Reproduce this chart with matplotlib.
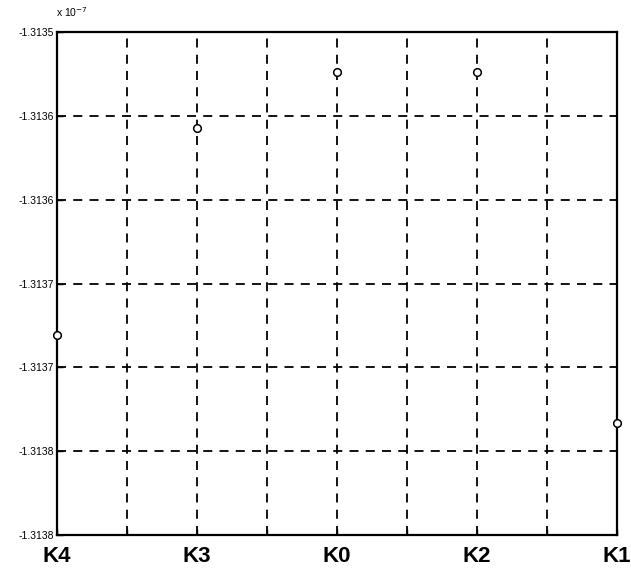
"""
Scanned MATLAB-style scatter: five K points on a dashed grid, y in units of 1e-7.
Output: out.png
"""
import matplotlib
matplotlib.use("Agg")
import matplotlib.pyplot as plt

plt.rcParams.update({
    "font.family": ["Liberation Sans", "DejaVu Sans"],
    "figure.dpi":  100,
})

# data (y in units of 1e-7)
point_names  = ["K4", "K3", "K0", "K2", "K1"]
point_x      = [1, 2, 3, 4, 5]
point_y      = [-1.313681, -1.313557, -1.313524, -1.313524, -1.313733]

y_ticks      = [-1.31380, -1.31375, -1.31370, -1.31365, -1.31360, -1.31355, -1.31350]
y_ticklabels = ["-1.3138", "-1.3138", "-1.3137", "-1.3137", "-1.3136", "-1.3136", "-1.3135"]
x_ticks      = [1, 1.5, 2, 2.5, 3, 3.5, 4, 4.5, 5]
x_ticklabels = ["K4", "", "K3", "", "K0", "", "K2", "", "K1"]

# draw
fig = plt.figure(figsize=(6.31, 5.77))
ax = fig.add_axes([0.0903, 0.0728, 0.8875, 0.8717])

ax.plot(point_x, point_y, linestyle="none", marker="o", markersize=5.5,
        markerfacecolor="white", markeredgecolor="black", markeredgewidth=1.1,
        zorder=4, clip_on=False)

ax.set_xlim(1, 5)
ax.set_ylim(-1.31380, -1.31350)
ax.set_xticks(x_ticks)
ax.set_xticklabels(x_ticklabels, fontsize=16, fontweight="bold")
ax.set_yticks(y_ticks)
ax.set_yticklabels(y_ticklabels, fontsize=7.5)

ax.tick_params(axis="both", direction="in", length=4, width=1.0, color="black")
ax.tick_params(axis="x", pad=8)
ax.tick_params(axis="y", pad=2)

ax.grid(True, color="black", linestyle=(0, (5, 4)), linewidth=1.3, zorder=1)
for side in ax.spines.values():
    side.set_linewidth(1.6)
    side.set_color("black")

fig.text(0.088, 0.967, r"x 10$^{-7}$", fontsize=7.5, ha="left", va="bottom")

fig.savefig("out.png", dpi=100)
plt.close(fig)
